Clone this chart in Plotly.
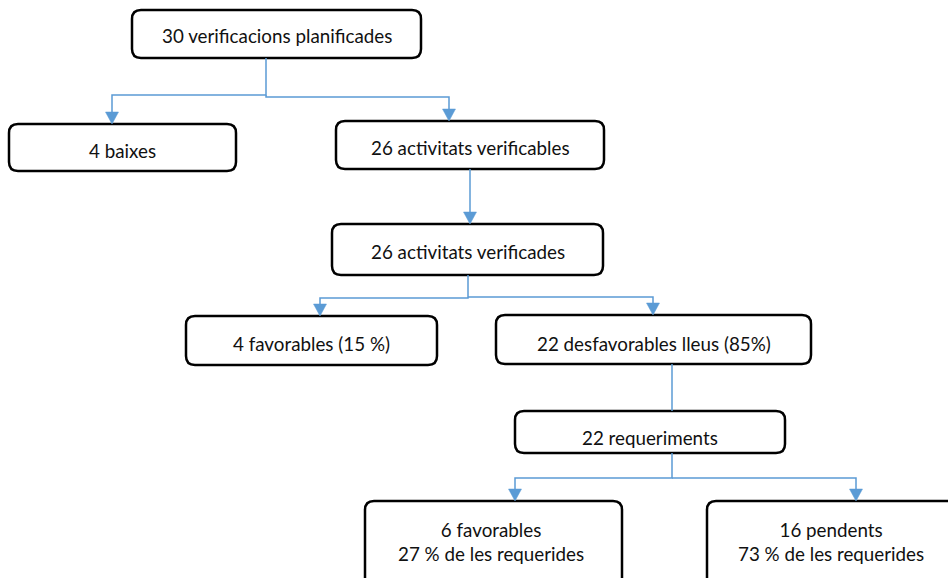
import plotly.graph_objects as go

# ---- content (labels) ----
box_labels = [
    "30 verificacions planificades",
    "4 baixes",
    "26 activitats verificables",
    "26 activitats verificades",
    "4 favorables (15 %)",
    "22 desfavorables lleus (85%)",
    "22 requeriments",
    "6 favorables<br>27 % de les requerides",
    "16 pendents<br>73 % de les requerides",
]

# ---- layout geometry (pixels, y downwards) ----
boxes = [  # x0, y0, x1, y1, text_x, text_y
    (132, 10, 421, 58, None, 35),
    (9, 124, 236, 171, None, 150),
    (336, 121, 604, 169, None, 147),
    (332, 224, 603, 275, None, 251),
    (186, 316, 437, 365, None, 343),
    (496, 315, 811, 364, None, 343),
    (515, 411, 785, 453, None, 437),
    (365, 501, 622, 592, 491, 541),
    (707, 501, 960, 592, 831, 541),
]

# connectors: polylines, and whether to end with an arrow
connectors = [
    ([(266, 58), (266, 95), (112, 95), (112, 124)], True),
    ([(266, 95), (266, 97), (449, 97), (449, 121)], True),
    ([(470, 169), (470, 224)], True),
    ([(468, 275), (468, 298), (320, 298), (320, 316)], True),
    ([(468, 297), (653, 297), (653, 315)], True),
    ([(672, 364), (672, 411)], False),
    ([(672, 453), (672, 478), (515, 478), (515, 501)], True),
    ([(672, 478), (856, 478), (856, 501)], True),
]

LINE_COL = "#5B9BD5"
R = 9

fig = go.Figure()
shapes = []
annotations = []

for (x0, y0, x1, y1, tx, ty), lab in zip(boxes, box_labels):
    path = (f"M {x0+R},{y0} L {x1-R},{y0} Q {x1},{y0} {x1},{y0+R} "
            f"L {x1},{y1-R} Q {x1},{y1} {x1-R},{y1} L {x0+R},{y1} "
            f"Q {x0},{y1} {x0},{y1-R} L {x0},{y0+R} Q {x0},{y0} {x0+R},{y0} Z")
    shapes.append(dict(type="path", path=path, xref="x", yref="y",
                       line=dict(color="black", width=2.5), fillcolor="white", layer="below"))
    cx = tx if tx is not None else (x0 + x1) / 2
    annotations.append(dict(x=cx, y=ty, xref="x", yref="y", text=lab, showarrow=False,
                            font=dict(family="Lato, Carlito, sans-serif", size=18.8, color="#111"),
                            align="center", yanchor="middle"))

AW, AH = 6.5, 12
for pts, arrow in connectors:
    pts2 = list(pts)
    if arrow:
        xe, ye = pts2[-1]
        pts2[-1] = (xe, ye - AH + 1)
    path = "M " + " L ".join(f"{x},{y}" for x, y in pts2)
    shapes.append(dict(type="path", path=path, xref="x", yref="y",
                       line=dict(color=LINE_COL, width=1.5)))
    if arrow:
        xe, ye = pts[-1]
        tri = f"M {xe-AW},{ye-AH} L {xe+AW},{ye-AH} L {xe},{ye} Z"
        shapes.append(dict(type="path", path=tri, xref="x", yref="y",
                           line=dict(color=LINE_COL, width=0.5), fillcolor=LINE_COL))

fig.update_layout(
    width=948, height=578,
    margin=dict(l=0, r=0, t=0, b=0),
    paper_bgcolor="white", plot_bgcolor="white",
    xaxis=dict(range=[0, 948], visible=False, fixedrange=True),
    yaxis=dict(range=[578, 0], visible=False, fixedrange=True),
    shapes=shapes, annotations=annotations, showlegend=False,
)

fig.write_html("out.html", config={"displayModeBar": False},
               post_script="document.body.style.margin='0';document.body.style.overflow='hidden';")
